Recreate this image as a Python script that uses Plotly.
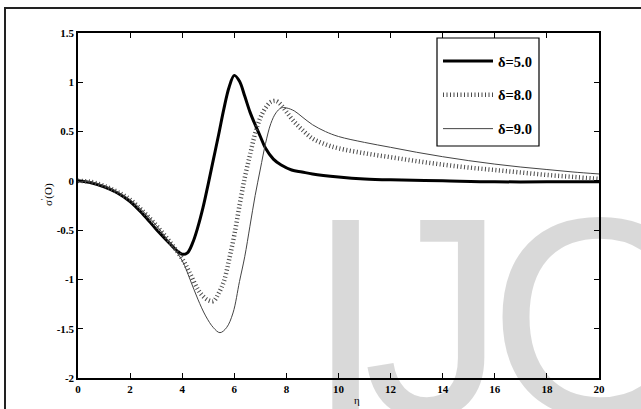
import plotly.graph_objects as go

# Similarity variable
eta_d5 = [0, 0.5, 1, 1.5, 2, 2.5, 3, 3.5, 3.8, 4.0, 4.2, 4.4, 4.6, 4.8, 5.0,
          5.2, 5.4, 5.6, 5.8, 6.0, 6.2, 6.4, 6.6, 6.8, 7.0, 7.2, 7.5, 7.8,
          8.2, 8.6, 9, 10, 11, 12, 14, 16, 18, 20]
sigma_d5 = [0, -0.02, -0.06, -0.12, -0.21, -0.34, -0.49, -0.63, -0.71, -0.745,
            -0.73, -0.63, -0.47, -0.27, -0.03, 0.22, 0.47, 0.73, 0.95, 1.07,
            1.01, 0.86, 0.70, 0.57, 0.45, 0.33, 0.22, 0.16, 0.11, 0.09, 0.07,
            0.04, 0.02, 0.01, 0.0, -0.01, -0.01, -0.01]

eta_d8 = [0, 0.5, 1, 1.5, 2, 2.5, 3, 3.5, 4.0, 4.3, 4.6, 4.8, 5.0, 5.2, 5.4,
          5.6, 5.8, 6.0, 6.2, 6.4, 6.6, 6.8, 7.0, 7.2, 7.4, 7.6, 7.8, 8.0,
          8.3, 8.6, 9.0, 9.5, 10, 11, 12, 13, 14, 15, 16, 17, 18, 19, 20]
sigma_d8 = [0, -0.01, -0.05, -0.11, -0.19, -0.31, -0.45, -0.61, -0.79, -0.94,
            -1.10, -1.17, -1.21, -1.22, -1.14, -1.02, -0.80, -0.55, -0.25,
            0.03, 0.26, 0.48, 0.64, 0.74, 0.80, 0.81, 0.77, 0.70, 0.60, 0.52,
            0.43, 0.37, 0.33, 0.28, 0.24, 0.20, 0.165, 0.135, 0.11, 0.085, 0.06,
            0.04, 0.02]

eta_d9 = [0, 0.5, 1, 1.5, 2, 2.5, 3, 3.5, 4.0, 4.3, 4.6, 4.9, 5.2, 5.45, 5.7,
          5.95, 6.2, 6.4, 6.6, 6.8, 7.0, 7.2, 7.4, 7.6, 7.8, 8.0, 8.3, 8.6,
          9.0, 9.5, 10, 11, 12, 13, 14, 15, 16, 17, 18, 19, 20]
sigma_d9 = [0, -0.01, -0.05, -0.11, -0.19, -0.31, -0.45, -0.62, -0.81, -1.00,
            -1.20, -1.37, -1.49, -1.54, -1.49, -1.34, -1.02, -0.77, -0.46,
            -0.15, 0.12, 0.38, 0.58, 0.69, 0.74, 0.74, 0.71, 0.65, 0.57, 0.50,
            0.45, 0.39, 0.34, 0.29, 0.245, 0.205, 0.17, 0.14, 0.115, 0.09, 0.07]

x_ticks = [0, 2, 4, 6, 8, 10, 12, 14, 16, 18, 20]
x_ticktext = ["0", "2", "4", "6", "8", "10", "12", "14", "16", "18", "20"]
y_ticks = [-2, -1.5, -1, -0.5, 0, 0.5, 1, 1.5]
y_ticktext = ["-2", "-1.5", "-1", "-0.5", "0", "0.5", "1", "1.5"]

W, H = 641, 409
ML, MR, MT, MB = 78, 42, 33, 31
PW, PH = W - ML - MR, H - MT - MB


def px(x):
    return (x - ML) / PW


def py(y):
    return (H - MB - y) / PH


serif = "Liberation Serif"
wm_font = dict(family="Liberation Sans", size=285, color="rgba(0,0,0,0.15)")

fig = go.Figure()
fig.add_trace(go.Scatter(x=eta_d5, y=sigma_d5, mode="lines", name="δ=5.0",
                         legendgroup="a", line=dict(color="black", width=3, shape="spline")))
fig.add_trace(go.Scatter(x=eta_d8, y=sigma_d8, mode="lines", name="δ=8.0",
                         legendgroup="b", line=dict(color="#4a4a4a", width=4.5, dash="1px,2.5px",
                                                    shape="spline")))
fig.add_trace(go.Scatter(x=eta_d9, y=sigma_d9, mode="lines", name="δ=9.0",
                         legendgroup="c", line=dict(color="#444444", width=1, shape="spline")))

axis_common = dict(showline=True, linecolor="black", linewidth=1.5, mirror="allticks",
                   ticks="inside", ticklen=5, tickcolor="black", showgrid=False,
                   zeroline=False,
                   tickfont=dict(family=serif, size=11, color="black", weight="bold"))

fig.update_xaxes(range=[0, 20], tickvals=x_ticks, ticktext=x_ticktext, **axis_common)
fig.update_yaxes(range=[-2, 1.5], tickvals=y_ticks, ticktext=y_ticktext, **axis_common)

annotations = [
    # watermark letters (semi-transparent so dark strokes stay dark)
    dict(text="I", x=px(345), y=py(156), xref="paper", yref="paper", xanchor="center",
         yanchor="top", showarrow=False, font=wm_font),
    dict(text="J", x=px(434), y=py(156), xref="paper", yref="paper", xanchor="center",
         yanchor="top", showarrow=False, font=wm_font),
    dict(text="O", x=px(600), y=py(156), xref="paper", yref="paper", xanchor="center",
         yanchor="top", showarrow=False, font=wm_font),
    # axis titles
    dict(text="η", x=10.7, y=py(400), xref="x", yref="paper", xanchor="center",
         yanchor="middle", showarrow=False, font=dict(family=serif, size=11, color="black")),
    dict(text="σ<sup>'</sup>(O)", x=px(48), y=py(195), xref="paper", yref="paper",
         xanchor="center", yanchor="middle", textangle=-90, showarrow=False,
         font=dict(family=serif, size=11, color="black")),
]

shapes = [
    # outer frame
    dict(type="rect", xref="paper", yref="paper", x0=px(5), y0=py(8), x1=px(660), y1=py(430),
         line=dict(color="#222222", width=2), fillcolor="rgba(0,0,0,0)", layer="above"),
    # legend box
    dict(type="rect", xref="paper", yref="paper", x0=px(437), y0=py(38), x1=px(539), y1=py(146),
         line=dict(color="black", width=1.2), fillcolor="rgba(0,0,0,0)", layer="above"),
]

fig.update_layout(
    width=W, height=H,
    margin=dict(l=ML, r=MR, t=MT, b=MB, pad=0),
    paper_bgcolor="white", plot_bgcolor="white",
    showlegend=True,
    legend=dict(x=px(438), y=py(45), xanchor="left", yanchor="top",
                bgcolor="rgba(0,0,0,0)", borderwidth=0, tracegroupgap=12,
                itemwidth=50,
                font=dict(family=serif, size=14.5, color="black", weight="bold"),
                traceorder="grouped"),
    annotations=annotations,
    shapes=shapes,
)

fig.write_html("out.html")
